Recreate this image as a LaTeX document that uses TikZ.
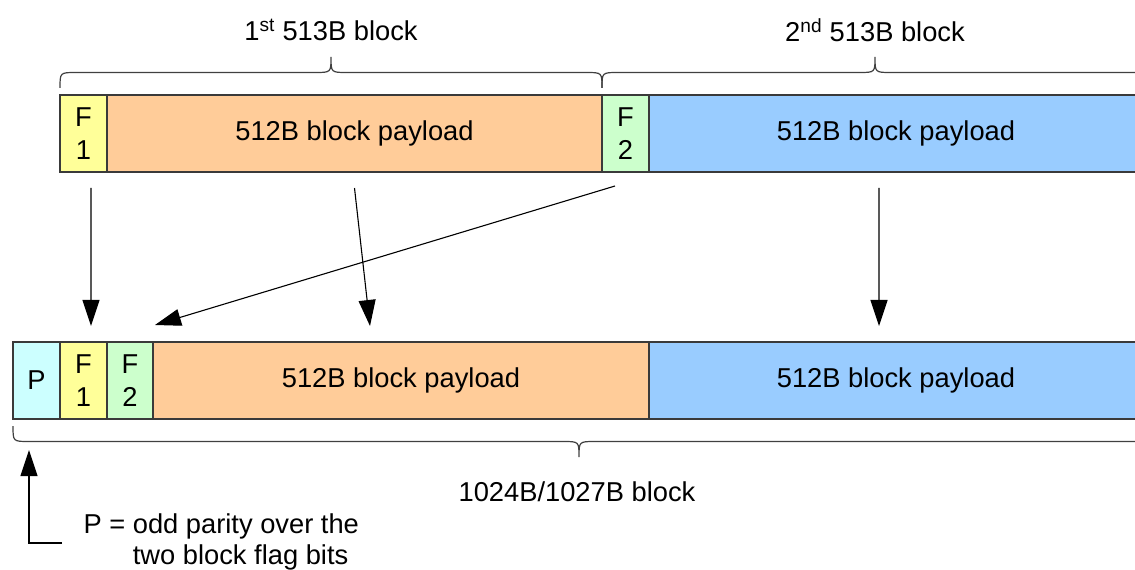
\documentclass[tikz,border=0pt]{standalone}
\usepackage{fontspec}
\setmainfont{Liberation Sans}
\usetikzlibrary{arrows.meta,calc}

\definecolor{flagone}{HTML}{FFFF99}
\definecolor{flagtwo}{HTML}{CCFFCC}
\definecolor{payloadA}{HTML}{FFCC99}
\definecolor{payloadB}{HTML}{99CCFF}
\definecolor{paritybox}{HTML}{CCFFFF}
\definecolor{edge}{HTML}{3A3A3A}

\begin{document}
\begin{tikzpicture}[x=1bp,y=-1bp,
  txt/.style={font=\fontsize{27.3bp}{33bp}\selectfont},
  field/.style={txt, draw=edge, line width=1.3bp, inner sep=0pt, outer sep=0pt,
    minimum height=77bp, anchor=north west, align=center},
  flag/.style={field, minimum width=47bp},
  payload/.style={field, minimum width=#1},
  arr/.style={draw=black, line width=1.1bp, -{Triangle[width=17bp,length=26bp]}},
  brace/.style={draw=black!75, line width=1.2bp, to path={
    let \p1=(\tikztostart), \p2=(\tikztotarget),
        \p3=($(\tikztostart)!.5!(\tikztotarget)$) in
    (\p1) .. controls ({\x1},{\y1+#1}) .. ({\x1+16bp},{\y1+#1})
    -- ({\x3-16bp},{\y1+#1}) .. controls ({\x3},{\y1+#1}) .. ({\x3},{\y1+2*#1})
    .. controls ({\x3},{\y1+#1}) .. ({\x3+16bp},{\y1+#1})
    -- ({\x2-16bp},{\y2+#1}) .. controls ({\x2},{\y2+#1}) .. (\p2)
  }},
]
\useasboundingbox (0,0) rectangle (1135,570);
\clip (0,0) rectangle (1135,570);

% two 513B blocks
\node[flag, fill=flagone] (f1t) at (60,95) {F\\1};
\node[payload=495bp, fill=payloadA] (pt) at (f1t.north east) {512B block payload};
\node[flag, fill=flagtwo] (f2t) at (pt.north east) {F\\2};
\node[payload=494bp, fill=payloadB] (bt) at (f2t.north east) {512B block payload};

% combined 1024B/1027B block
\node[flag, fill=paritybox] (pp) at (13,342) {P};
\node[flag, fill=flagone] (f1b) at (pp.north east) {F\\1};
\node[flag, minimum width=46bp, fill=flagtwo] (f2b) at (f1b.north east) {F\\2};
\node[payload=496bp, fill=payloadA] (ob) at (f2b.north east) {512B block payload};
\node[payload=494bp, fill=payloadB] (bb) at (ob.north east) {512B block payload};

% braces and their labels
\draw[brace=15.5bp] ([yshift=7bp]f1t.north west) to ([yshift=7bp]pt.north east);
\draw[brace=15.5bp] ([yshift=7bp]f2t.north west) to ([xshift=5bp,yshift=7bp]bt.north east);
\draw[brace=-15.5bp] ([yshift=-7bp]pp.south west) to ([xshift=2bp,yshift=-7bp]bb.south east);

\node[txt] (lab1) at (331,30) {1\textsuperscript{st} 513B block};
\node[txt] (lab2) at (875,30) {2\textsuperscript{nd} 513B block};
\node[txt] (lab3) at (577,492) {1024B/1027B block};

% field moves
\draw[arr] ([xshift=7.5bp,yshift=-16bp]f1t.south) -- ([xshift=7.5bp,yshift=16bp]f1b.north);
\draw[arr] ([yshift=-16bp]pt.south) -- ([xshift=-31bp,yshift=16bp]ob.north);
\draw[arr] ([xshift=-10.5bp,yshift=-14bp]f2t.south) -- ([xshift=25bp,yshift=17bp]f2b.north);
\draw[arr] ([xshift=-17bp,yshift=-16bp]bt.south) -- ([xshift=-17bp,yshift=16bp]bb.north);

% parity note
\node[txt, anchor=base west, align=left, font=\fontsize{27.3bp}{31bp}\selectfont]
  (note) at (80,564) {P = odd parity over the\\\hphantom{P = }two block flag bits};
\coordinate (pfoot) at (62,543);
\draw[arr, shorten >=31bp] (pfoot) -| ([xshift=-7.5bp]pp.south);
\end{tikzpicture}
\end{document}
